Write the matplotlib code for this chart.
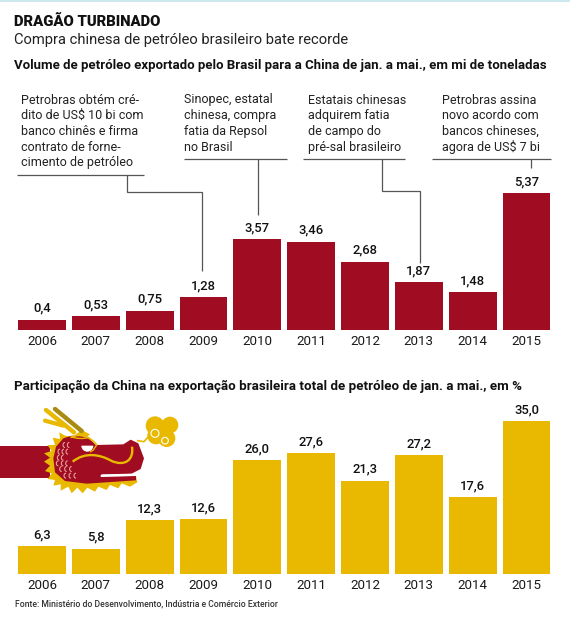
import matplotlib
matplotlib.use("Agg")
import matplotlib.pyplot as plt
from matplotlib.patches import Polygon, Circle, Rectangle, Wedge, Arc, PathPatch
from matplotlib.path import Path

plt.rcParams['font.family'] = ['Roboto', 'DejaVu Sans']

years = ['2006','2007','2008','2009','2010','2011','2012','2013','2014','2015']
volume = [0.4,0.53,0.75,1.28,3.57,3.46,2.68,1.87,1.48,5.37]
volume_labels = ['0,4','0,53','0,75','1,28','3,57','3,46','2,68','1,87','1,48','5,37']
share = [6.3,5.8,12.3,12.6,26.0,27.6,21.3,27.2,17.6,35.0]
share_labels = ['6,3','5,8','12,3','12,6','26,0','27,6','21,3','27,2','17,6','35,0']

RED = '#A00D22'
YEL = '#E8B900'
W, H = 570, 618
fig = plt.figure(figsize=(W/100, H/100), dpi=100, facecolor='white')

def px_axes(l, t, r, b, **kw):
    return fig.add_axes([l/W, 1-b/H, (r-l)/W, (b-t)/H], **kw)

def bars(ax, vals, labels, color, ymax):
    xs = range(len(vals))
    ax.bar(xs, vals, width=0.89, color=color)
    ax.set_xlim(-0.5, 9.5)
    ax.set_ylim(0, ymax)
    ax.set_xticks(list(xs), years)
    ax.tick_params(axis='x', length=0, pad=3.5, labelsize=9.6, labelcolor='#1a1a1a')
    ax.set_yticks([])
    for s in ax.spines.values():
        s.set_visible(False)
    ax.patch.set_alpha(0)
    for x, v, t in zip(xs, vals, labels):
        ax.annotate(t, (x, v), xytext=(0, 5), textcoords='offset pixels', ha='center',
                    va='bottom', fontsize=9.4, fontweight='medium', color='#111')

ax1 = px_axes(15.1, 186, 553.4, 330)
bars(ax1, volume, volume_labels, RED, 144/25.5)
ax2 = px_axes(15.1, 400, 553.4, 574)
bars(ax2, share, share_labels, YEL, 174/4.37)

ov = fig.add_axes([0, 0, 1, 1], zorder=5)
ov.set_xlim(0, W); ov.set_ylim(H, 0); ov.axis('off')

ov.add_patch(Rectangle((0, 0), W, 2, color='#CDE8EE', lw=0))

def T(x, y, s, size, weight='normal', color='#111'):
    ov.text(x, y, s, fontsize=size, fontweight=weight, color=color, va='center', ha='left')

T(14, 22, 'DRAGÃO TURBINADO', 10.7, 'heavy')
T(14, 40, 'Compra chinesa de petróleo brasileiro bate recorde', 10.6, 'normal', '#222')
T(14, 65.5, 'Volume de petróleo exportado pelo Brasil para a China de jan. a mai., em mi de toneladas', 9.55, 'bold')
T(14, 386, 'Participação da China na exportação brasileira total de petróleo de jan. a mai., em %', 9.6, 'bold')
T(15, 604, 'Fonte: Ministério do Desenvolvimento, Indústria e Comércio Exterior', 6.25, 'medium', '#333')

notes = [
    (21, ['Petrobras obtém cré-', 'dito de US$ 10 bi com', 'banco chinês e firma', 'contrato de forne-', 'cimento de petróleo']),
    (184, ['Sinopec, estatal', 'chinesa, compra', 'fatia da Repsol', 'no Brasil']),
    (308, ['Estatais chinesas', 'adquirem fatia', 'de campo do', 'pré-sal brasileiro']),
    (442, ['Petrobras assina', 'novo acordo com', 'bancos chineses,', 'agora de US$ 7 bi']),
]
for x, ls in notes:
    for i, l in enumerate(ls):
        T(x, 100 + i*15.7, l, 9.0, 'normal', '#222')

LC = '#555'
leaders = [
    ([17, 143.5], [174.5, 174.5]), ([126.5, 126.5, 202, 202], [174.5, 192, 192, 271]),
    ([184, 287], [158.5, 158.5]), ([258, 258], [158.5, 215]),
    ([303, 405], [158.5, 158.5]), ([382, 382, 420, 420], [158.5, 191, 191, 263]),
    ([431.5, 551], [158.5, 158.5]), ([531, 531], [158.5, 168]),
]
for xs, ys in leaders:
    ov.plot(xs, ys, color=LC, lw=0.9, solid_joinstyle='miter', solid_capstyle='butt')

# Dragon decoration (coordinates taken from a 3x crop: x/3, 395+y/3)
def Z(pts):
    return [(x/3, 395 + y/3) for x, y in pts]

ov.add_patch(Polygon(Z([(0,153),(150,153),(150,250),(0,250)]), color=RED, lw=0))
ov.plot(*zip(*Z([(165,42),(245,108)])), color='#A98A12', lw=3.2, solid_capstyle='round')
ov.plot(*zip(*Z([(138,45),(222,112)])), color=YEL, lw=3.2, solid_capstyle='round')
ov.plot(*zip(*Z([(135,77),(190,92)])), color=YEL, lw=3, solid_capstyle='round')
mane = [(195,122),(178,112),(180,132),(158,128),(165,150),(142,150),(155,168),(132,175),(150,188),
        (132,200),(150,212),(135,228),(155,235),(143,252),(165,255),(160,272),(182,268),(182,287),
        (205,275),(215,295),(232,278),(248,295),(262,278),(285,290),(295,275),(320,285),(330,270),
        (355,280),(365,265),(390,275),(412,262),(408,243),(300,250),(240,190),(225,120),
        (245,105),(270,118),(255,130)]
ov.add_patch(Polygon(Z(mane), color=YEL, lw=0))
v = [(160,190),(168,155),(190,130),(215,122),(260,124),(288,150),(370,148),(392,134),(415,145),(432,190),
     (422,222),(395,236),(305,238),(300,244),(408,243),(408,256),(260,266),(195,258),(165,232)]
ov.add_patch(Polygon(Z(v), color=RED, lw=0))
ov.add_patch(PathPatch(Path(Z([(212,128),(240,112),(275,128),(290,150)]), [Path.MOVETO, Path.CURVE4, Path.CURVE4, Path.CURVE4]), fc='none', ec=YEL, lw=1.2))
ov.add_patch(PathPatch(Path(Z([(212,125),(240,135),(268,127)]), [Path.MOVETO, Path.CURVE3, Path.CURVE3]), fc='none', ec=YEL, lw=1.0))
ov.plot(*zip(*Z([(290,150),(280,165),(272,170)])), color=YEL, lw=1.0)
ex, ey = Z([(262,152)])[0]
ov.add_patch(Wedge((ex, ey), 6, 0, 180, color='white', lw=0))
mouth = Z([(218,200),(255,170),(300,178),(335,198),(375,215),(402,195),(396,155)])
ov.add_patch(PathPatch(Path(mouth, [Path.MOVETO]+[Path.CURVE4]*6), fc='none', ec=YEL, lw=1.7))
ov.add_patch(Polygon(Z([(303,240),(405,236),(405,243),(303,246)]), color='white', lw=0))
for sx, sy in [(195,150),(208,150),(180,170),(192,170),(204,170),(178,188),(190,188),(175,205),
               (190,205),(203,205),(185,222),(200,222),(215,222),(198,242),(213,242),(228,242)]:
    x, y = Z([(sx, sy)])[0]
    ov.add_patch(Arc((x, y), 4, 5, theta1=90, theta2=270, ec='#EDB0A8', lw=0.7))
for cx, cy, r in [(465,92,28),(510,90,25),(500,130,26),(468,122,26),(488,105,28)]:
    x, y = Z([(cx, cy)])[0]
    ov.add_patch(Circle((x, y), r/3, color=YEL, lw=0))
ov.plot(*zip(*Z([(413,137),(432,140),(445,125),(455,128)])), color=YEL, lw=1.2)
for cx, cy, r in [(465,115,12),(495,137,10)]:
    x, y = Z([(cx, cy)])[0]
    ov.add_patch(Circle((x, y), r/3, fc='none', ec='white', lw=0.8))

fig.savefig('out.png', dpi=100)
